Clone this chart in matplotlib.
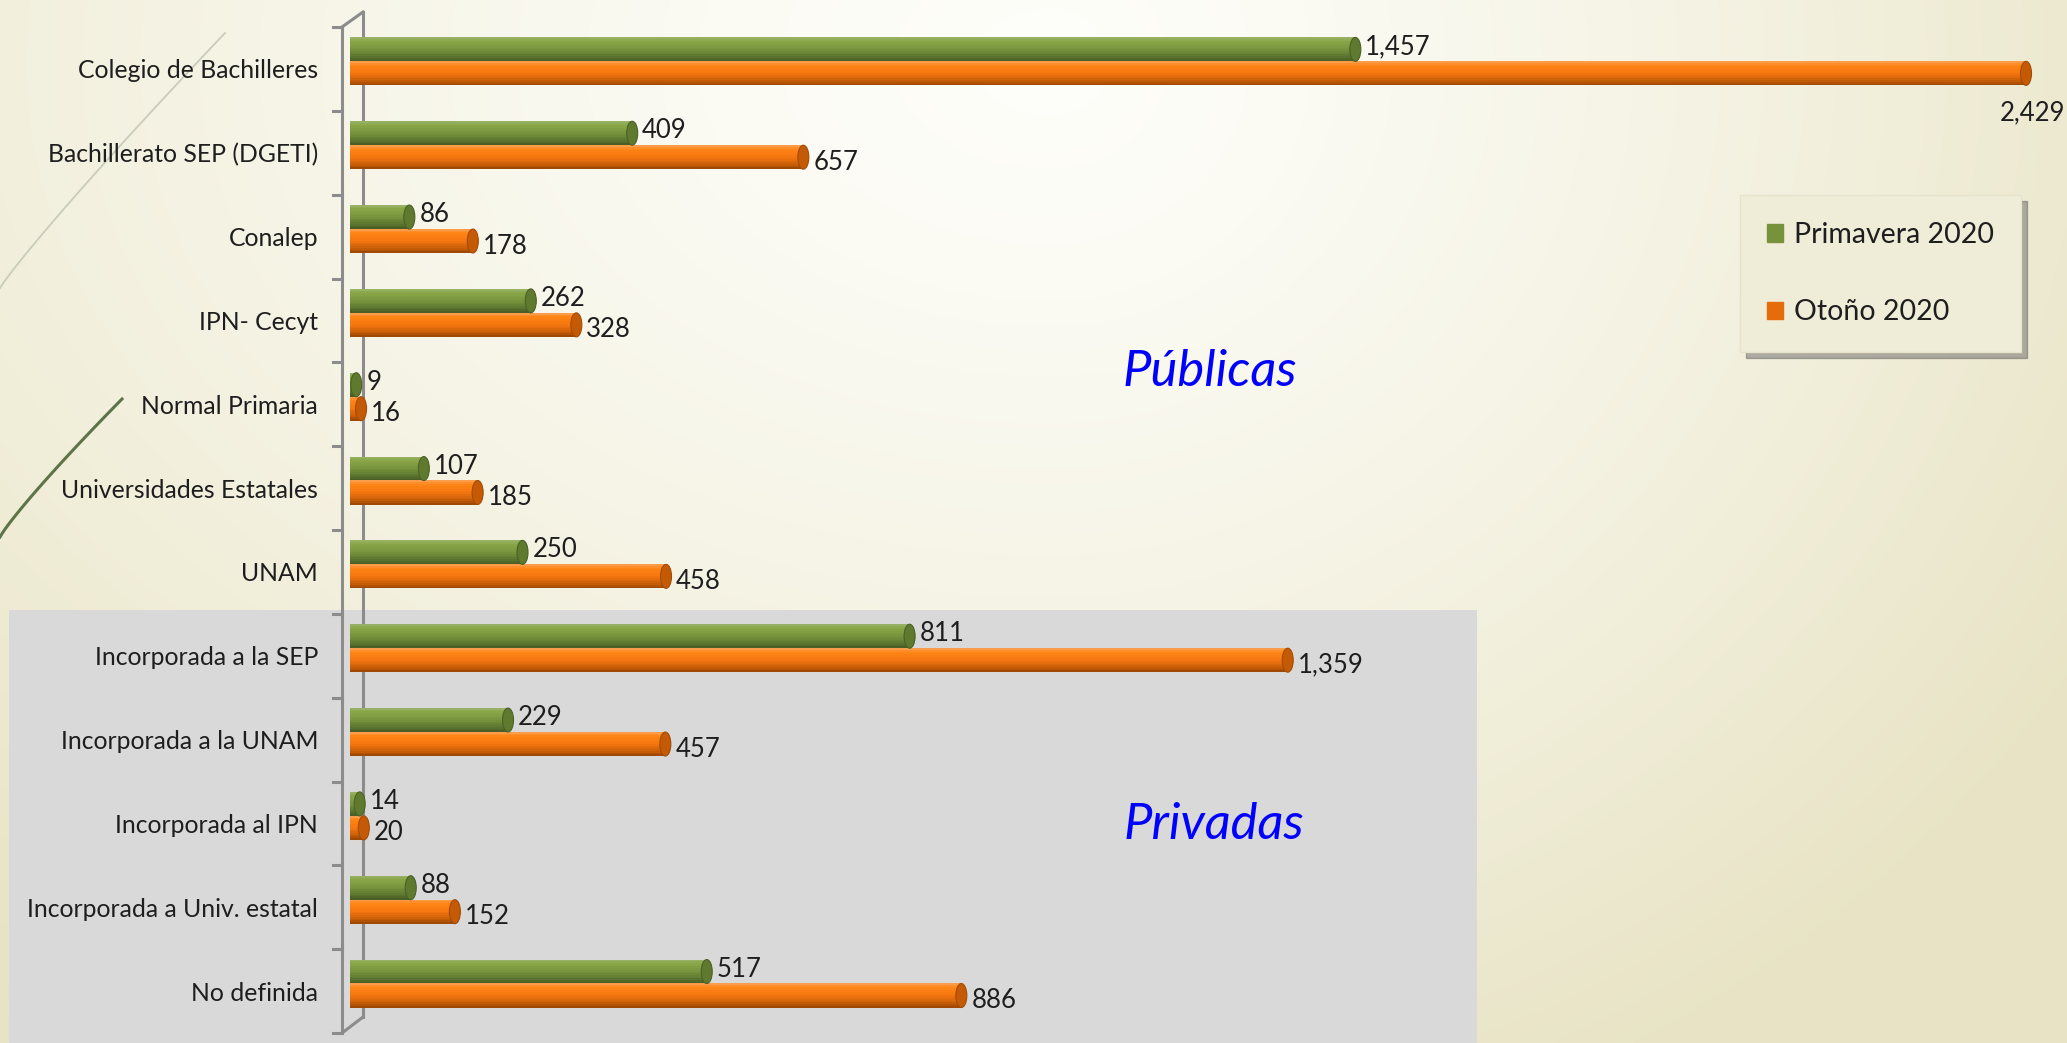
import numpy as np
import matplotlib
matplotlib.use("Agg")
import matplotlib.pyplot as plt
from matplotlib.patches import Ellipse, Rectangle, Patch
from matplotlib.colors import to_rgb

categorias = ["Colegio de Bachilleres", "Bachillerato SEP (DGETI)", "Conalep", "IPN- Cecyt",
              "Normal Primaria", "Universidades Estatales", "UNAM", "Incorporada a la SEP",
              "Incorporada a la UNAM", "Incorporada al IPN", "Incorporada a Univ. estatal",
              "No definida"]
primavera = [1457, 409, 86, 262, 9, 107, 250, 811, 229, 14, 88, 517]
otono = [2429, 657, 178, 328, 16, 185, 458, 1359, 457, 20, 152, 886]
series = ["Primavera 2020", "Otoño 2020"]

W, H = 2067, 1043
PX = 0.69      # pixels per unit
X0 = 350       # pixel where value 0 sits
FONT = "Lato"
TXT = "#1e1e1e"

fig = plt.figure(figsize=(W / 100, H / 100), dpi=100)

# background gradient + decorations
bg = fig.add_axes([0, 0, 1, 1], zorder=-10)
yy, xx = np.mgrid[0:H:4, 0:W:4]
cx, cy = 1050, 60
sx = np.where(xx < cx, 1700, 1250)
d = np.sqrt(((xx - cx) / sx) ** 2 + ((yy - cy) / 1150) ** 2)
t = np.clip(d, 0, 1)[..., None] ** 1.3
white = np.array([254, 254, 250]) / 255
beige = np.array([232, 227, 196]) / 255
bg.imshow(white * (1 - t) + beige * t, extent=(0, W, H, 0), aspect="auto", interpolation="bilinear")
bg.set_xlim(0, W)
bg.set_ylim(H, 0)
bg.axis("off")
lx = np.linspace(0, 225, 50)
bg.plot(lx, 288 - (288 - 33) * (lx / 225) ** 0.93, color="#c9ccbb", lw=1.3)
dx = np.linspace(0, 122, 50)
bg.plot(dx, 537 - (537 - 399) * (dx / 122) ** 0.9, color="#5d7448", lw=2.2)
bg.add_patch(Rectangle((9, 610), 1468, 433, color="#d9d9d9", lw=0))

ax = fig.add_axes([330 / W, 1 - 1033 / H, 1 - 330 / W, (1033 - 27) / H])
ax.set_xlim((330 - X0) / PX, (W - X0) / PX)
ax.set_ylim(11.5, -0.5)
ax.patch.set_alpha(0)
for s in ax.spines.values():
    s.set_visible(False)
ax.set_xticks([])
ax.set_yticks(range(len(categorias)))
ax.set_yticklabels(categorias, fontsize=17.8, family=FONT, color=TXT)
ax.tick_params(axis="y", length=0, pad=8.6)

# 3D-ish axis wall
ax_col = "#8c8c8c"
xf, xb = (342 - X0) / PX, (363 - X0) / PX
yt_b = (12 - 27) / 83.83 - 0.5
yb_b = (1017 - 27) / 83.83 - 0.5
ax.plot([xb, xb], [yt_b, yb_b], color=ax_col, lw=2.2, zorder=1, clip_on=False)
ax.plot([xf, xf], [-0.5, 11.5], color=ax_col, lw=2.2, zorder=1, clip_on=False)
ax.plot([xf, xb], [-0.5, yt_b], color=ax_col, lw=2.2, zorder=1, clip_on=False)
ax.plot([xf, xb], [11.5, yb_b], color=ax_col, lw=2.2, zorder=1, clip_on=False)
for b in np.arange(-0.5, 12, 1):
    ax.plot([xf - 9 / PX, xf], [b, b], color=ax_col, lw=2.2, zorder=1, clip_on=False)


def shade(stops, tt):
    pos = [p for p, _ in stops]
    cols = np.array([to_rgb(c) for _, c in stops])
    return [np.interp(tt, pos, cols[:, i]) for i in range(3)]


h = 0.286
shift = -0.09
y = np.arange(len(categorias))
yg = y + shift - h / 2
yo = y + shift + h / 2

g_stops = [(0, "#9db36c"), (0.15, "#8aa848"), (0.5, "#77943d"), (0.8, "#5b7530"), (1, "#465a22")]
o_stops = [(0, "#f9a35a"), (0.15, "#ff8616"), (0.5, "#f57610"), (0.8, "#c95e07"), (1, "#964404")]
N = 14
for centers, vals, stops, cap in [(yg, primavera, g_stops, "#5f7a2e"), (yo, otono, o_stops, "#c55a06")]:
    for k in range(N):
        tk = (k + 0.5) / N
        ax.barh(centers - h / 2 + (k + 0.5) * h / N, vals, height=h / N * 1.05,
                color=shade(stops, tk), lw=0, zorder=3)
    for yc, v in zip(centers, vals):
        ax.add_patch(Ellipse((v, yc), width=11 / PX, height=h, fc=cap, ec=shade(stops, 0.95),
                             lw=0.8, zorder=4))

for i, v in enumerate(primavera):
    ax.text(v + 10 / PX, yg[i] - 0.03, f"{v:,}", fontsize=18.5, family=FONT, color=TXT,
            ha="left", va="center", zorder=5)
for i, v in enumerate(otono):
    if v == max(otono):
        ax.text(v + 6 / PX, yo[i] + 0.47, f"{v:,}", fontsize=18.5, family=FONT, color=TXT,
                ha="center", va="center", zorder=5, clip_on=False)
    else:
        ax.text(v + 10 / PX, yo[i] + 0.06, f"{v:,}", fontsize=18.5, family=FONT, color=TXT,
                ha="left", va="center", zorder=5)

fig.text(1210 / W, 1 - 372 / H, "Públicas", fontsize=36.5, style="italic", family=FONT,
         color="#0000ff", ha="center", va="center")
fig.text(1214 / W, 1 - 825 / H, "Privadas", fontsize=36.5, style="italic", family=FONT,
         color="#0000ff", ha="center", va="center")

handles = [Patch(color="#76933c"), Patch(color="#e46c0a")]
leg = fig.legend(handles, series, loc="upper left", bbox_to_anchor=(1740 / W, 1 - 195 / H),
                 prop={"family": FONT, "size": 20.5}, handlelength=0.56, handleheight=0.56,
                 labelspacing=1.8, handletextpad=0.4, borderpad=0.95, borderaxespad=0,
                 fancybox=False, framealpha=1,
                 shadow={"ox": 4, "oy": -4, "color": "0.35", "alpha": 0.45})
leg.get_frame().set_facecolor("#efecd8")
leg.get_frame().set_edgecolor("#e6e2cc")
for txt in leg.get_texts():
    txt.set_color(TXT)

fig.savefig("out.png", dpi=100)
